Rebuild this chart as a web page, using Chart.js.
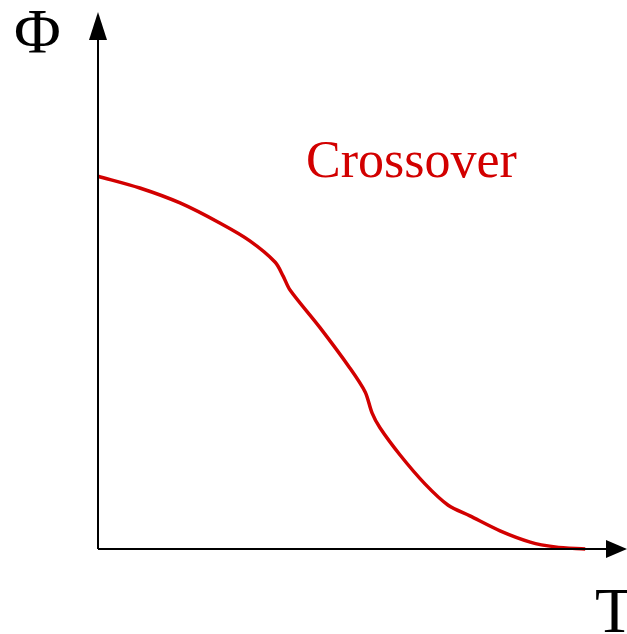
<!DOCTYPE html>
<html>
<head>
<meta charset="utf-8">
<script src="https://cdn.jsdelivr.net/npm/chart.js@4"></script>
<style>
  html, body { margin: 0; padding: 0; background: #fff; }
  #wrap { width: 627px; height: 634px; }
</style>
</head>
<body>
<div id="wrap"><canvas id="chart"></canvas></div>
<script>
// values (arbitrary units, axes have no ticks)
const temps = [0, 0.79, 1.55, 2.31, 2.87, 3.35, 3.50, 3.63, 4.20, 4.76, 5.05, 5.18, 5.33, 5.71, 6.18, 6.62, 7.03, 7.60, 8.17, 8.64, 9.21]
const phi = [6.98, 6.76, 6.48, 6.10, 5.77, 5.37, 5.11, 4.85, 4.14, 3.39, 2.94, 2.55, 2.27, 1.76, 1.22, 0.82, 0.62, 0.34, 0.13, 0.04, 0]
const xLabel = "T"
const yLabel = "Φ"
const curveLabel = "Crossover"

const red = "rgb(210, 0, 0)"
const serif = "'Liberation Serif', 'DejaVu Serif', serif"

// axes with arrow heads plus the text labels
const axesPlugin = {
  id: "axes",
  afterDraw(chart) {
    const { ctx, chartArea: a, scales } = chart
    const x0 = scales.x.getPixelForValue(0)
    const y0 = scales.y.getPixelForValue(0)
    ctx.save()
    ctx.strokeStyle = "#000"
    ctx.fillStyle = "#000"
    ctx.lineWidth = 2
    ctx.beginPath()
    ctx.moveTo(x0, y0)
    ctx.lineTo(x0, a.top + 20)
    ctx.moveTo(x0, y0)
    ctx.lineTo(a.right - 15, y0)
    ctx.stroke()

    // y arrow
    ctx.beginPath()
    ctx.moveTo(x0, a.top - 3)
    ctx.lineTo(x0 - 9, a.top + 25)
    ctx.lineTo(x0 + 9, a.top + 25)
    ctx.closePath()
    ctx.fill()
    // x arrow
    ctx.beginPath()
    ctx.moveTo(a.right, y0)
    ctx.lineTo(a.right - 21, y0 - 9)
    ctx.lineTo(a.right - 21, y0 + 9)
    ctx.closePath()
    ctx.fill()

    ctx.textBaseline = "alphabetic"
    ctx.textAlign = "left"
    ctx.font = "64px " + serif
    ctx.fillText(yLabel, 14, 53)
    ctx.fillText(xLabel, 595, 632)

    ctx.fillStyle = red
    ctx.font = "52px " + serif
    ctx.fillText(curveLabel, 306, 177)
    ctx.restore()
  }
}

new Chart(document.getElementById("chart"), {
  type: "line",
  data: {
    datasets: [{
      data: temps.map((t, i) => ({ x: t, y: phi[i] })),
      borderColor: red,
      borderWidth: 3.5,
      pointRadius: 0,
      fill: false,
      tension: 0.3,
      clip: false
    }]
  },
  options: {
    responsive: true,
    maintainAspectRatio: false,
    animation: false,
    layout: { padding: { left: 98, right: 0, top: 15, bottom: 85 } },
    plugins: { legend: { display: false }, tooltip: { enabled: false } },
    scales: {
      x: { type: "linear", min: 0, max: 10, display: false },
      y: { type: "linear", min: 0, max: 10, display: false }
    }
  },
  plugins: [axesPlugin]
})
</script>
</body>
</html>
